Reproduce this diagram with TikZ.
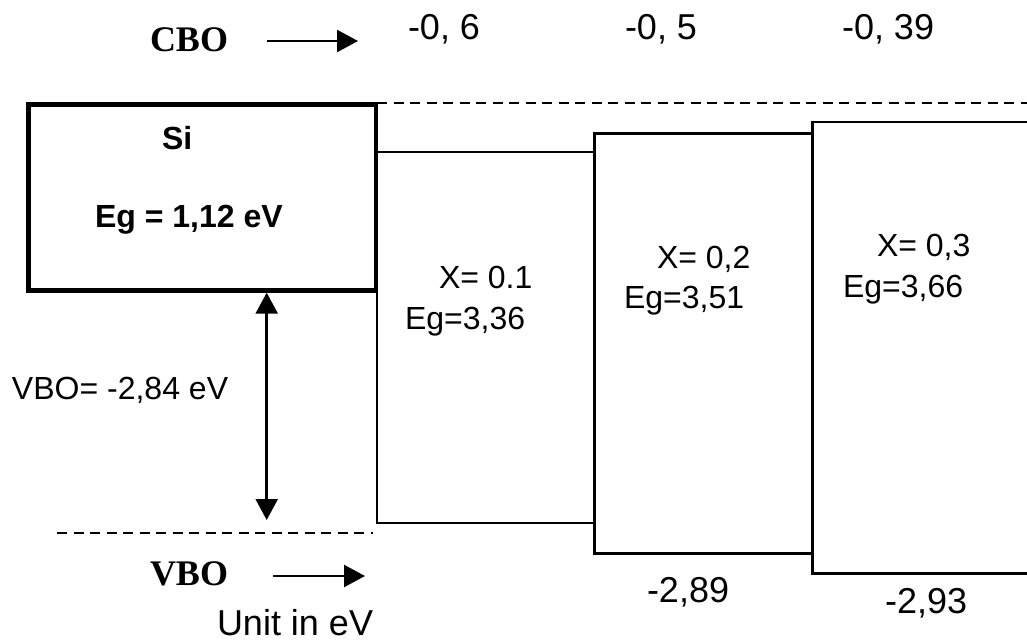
\documentclass[tikz,border=0pt]{standalone}
\usepackage{fontspec}
\setmainfont{Liberation Serif}
\setsansfont{Liberation Sans}
\usetikzlibrary{arrows.meta}
\begin{document}
\begin{tikzpicture}[x=1pt,y=-1pt,
  txt/.style={font=\sffamily\fontsize{32}{36}\selectfont, inner sep=0pt, outer sep=0pt, anchor=base west},
  txtb/.style={txt, font=\sffamily\bfseries\fontsize{32}{36}\selectfont},
  big/.style={txt, font=\sffamily\fontsize{36}{40}\selectfont},
  hd/.style={txt, font=\rmfamily\bfseries\fontsize{36}{40}\selectfont},
  sibox/.style={draw, line width=4.5pt, inner sep=0pt, outer sep=0pt, anchor=north west},
  band/.style={draw, line width=2.5pt, inner sep=0pt, outer sep=0pt, anchor=north west},
  dashline/.style={line width=2.2pt, dash pattern=on 10pt off 6.5pt},
  arr/.style={line width=2.5pt, -{Triangle[length=21pt,width=22pt]}},
  darr/.style={line width=2.5pt, {Triangle[length=21pt,width=22pt]}-{Triangle[length=21pt,width=22pt]}}
]
\path[use as bounding box] (0,0) rectangle (1027,644);
\clip (0,0) rectangle (1027,644);

% band boxes
\node[band, minimum width=217.5pt, minimum height=371pt] (b1) at (377,152) {};
\node[band, minimum width=218.2pt, minimum height=420pt] (b2) at (594.5,133.3) {};
\node[band, minimum width=300pt, minimum height=451.3pt] (b3) at (812.7,122) {};
\node[sibox, minimum width=347.5pt, minimum height=186pt] (sibox) at (28.5,104.5) {};

% reference dashed lines
\coordinate (cbl) at (377,103.3);
\coordinate (cbr) at (1030,103.3);
\coordinate (vbl) at (57,532.7);
\coordinate (vbr) at (373,532.7);
\draw[dashline] (cbl) -- (cbr);
\draw[dashline] (vbl) -- (vbr);

% VBO double arrow
\coordinate (vtop) at (266.7,292.7);
\coordinate (vbot) at (266.7,520);
\draw[darr] (vtop) -- (vbot);

% labels
\node[hd] (cbo) at (150,52) {CBO};
\node[big] (c1) at (408,40) {-0, 6};
\node[big] (c2) at (625,40) {-0, 5};
\node[big] (c3) at (842,40) {-0, 39};
\node[txtb] (si) at (162,150) {Si};
\node[txtb] (egsi) at (95,228) {Eg = 1,12 eV};
\node[txt] (x1) at (439,288) {X= 0.1};
\node[txt] (e1) at (405,329) {Eg=3,36};
\node[txt] (x2) at (657,268) {X= 0,2};
\node[txt] (e2) at (624,308) {Eg=3,51};
\node[txt] (x3) at (877,257) {X= 0,3};
\node[txt] (e3) at (843,297) {Eg=3,66};
\node[txt] (vbol) at (12,399) {VBO= -2,84 eV};
\node[hd] (vbo) at (150,585) {VBO};
\node[big] (unit) at (217,635) {Unit in eV};
\node[big] (v2) at (647,602) {-2,89};
\node[big] (v3) at (885,613) {-2,93};

% CBO / VBO arrows
\coordinate (cboS) at (267,41);
\coordinate (cboE) at (358,41);
\coordinate (vboS) at (273,576);
\coordinate (vboE) at (365,576);
\draw[arr] (cboS) -- (cboE);
\draw[arr] (vboS) -- (vboE);
\end{tikzpicture}
\end{document}
